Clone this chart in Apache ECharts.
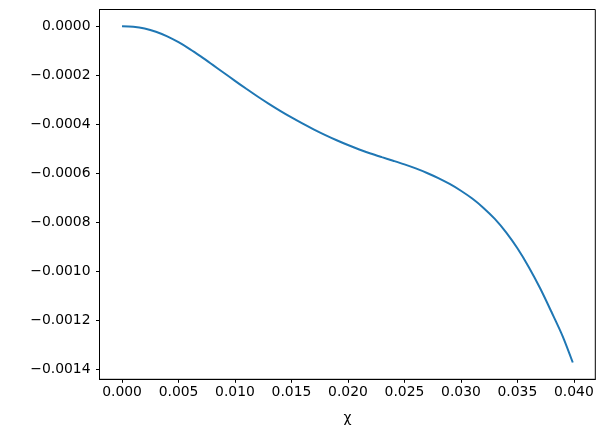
<!DOCTYPE html>
<html>
<head>
<meta charset="utf-8">
<script src="https://cdn.jsdelivr.net/npm/echarts@6/dist/echarts.min.js"></script>
<style>html,body{margin:0;padding:0;background:#fff}#c{width:605px;height:432px}</style>
</head>
<body>
<div id="c"></div>
<script>
const chiValues = [0, 0.001, 0.002, 0.003, 0.004, 0.005, 0.006, 0.007, 0.008, 0.009, 0.010,
  0.011, 0.012, 0.013, 0.014, 0.015, 0.016, 0.017, 0.018, 0.019, 0.020,
  0.021, 0.022, 0.023, 0.024, 0.025, 0.026, 0.027, 0.028, 0.029, 0.030,
  0.031, 0.032, 0.033, 0.034, 0.035, 0.036, 0.037, 0.038, 0.039, 0.0399];
const yValues = [0, -0.000002, -0.000009, -0.000022, -0.000041, -0.000065, -0.000093, -0.000124, -0.0001565, -0.0001895, -0.0002225,
  -0.000255, -0.0002865, -0.0003165, -0.000345, -0.000372, -0.0003975, -0.0004215, -0.000444, -0.000465, -0.0004845,
  -0.0005025, -0.000519, -0.000534, -0.0005485, -0.0005635, -0.00058, -0.0005985, -0.0006195, -0.0006435, -0.000671,
  -0.000703, -0.000741, -0.000786, -0.000841, -0.000906, -0.000982, -0.001068, -0.001164, -0.001264, -0.001372];
const xTicks = [0, 0.005, 0.010, 0.015, 0.020, 0.025, 0.030, 0.035, 0.040];
const yTicks = [0, -0.0002, -0.0004, -0.0006, -0.0008, -0.0010, -0.0012, -0.0014];

const font = 'DejaVu Sans';
const fmt = (v, d) => {
  const s = Math.abs(v).toFixed(d);
  return (v < -1e-12 ? '\u2212' : '') + s;
};
const chart = echarts.init(document.getElementById('c'), null, {renderer: 'canvas'});
chart.setOption({
  animation: false,
  backgroundColor: '#fff',
  grid: {left: 99.5, top: 9.5, right: 9.7, bottom: 52.7, show: true, borderColor: '#000', borderWidth: 1, containLabel: false},
  xAxis: {
    type: 'value', min: -0.001995, max: 0.041895,
    name: 'χ', nameLocation: 'middle', nameGap: 32,
    nameTextStyle: {fontFamily: font, fontSize: 13.9, color: '#000'},
    axisLine: {show: true, onZero: false, lineStyle: {color: '#000', width: 1}},
    axisTick: {show: true, length: 3.5, lineStyle: {color: '#000', width: 1}, customValues: xTicks},
    axisLabel: {show: true, margin: 6, fontFamily: font, fontSize: 13.9, color: '#000', customValues: xTicks,
      formatter: v => fmt(v, 3)},
    splitLine: {show: false}
  },
  yAxis: {
    type: 'value', min: -0.0014405, max: 0.0000686,
    axisLine: {show: true, onZero: false, lineStyle: {color: '#000', width: 1}},
    axisTick: {show: true, length: 3.5, lineStyle: {color: '#000', width: 1}, customValues: yTicks},
    axisLabel: {show: true, margin: 9, fontFamily: font, fontSize: 13.9, color: '#000', customValues: yTicks,
      formatter: v => fmt(v, 4)},
    splitLine: {show: false}
  },
  series: [{
    type: 'line',
    data: chiValues.map((x, i) => [x, yValues[i]]),
    showSymbol: false,
    smooth: 0.3,
    lineStyle: {color: '#1f77b4', width: 2},
    itemStyle: {color: '#1f77b4'}
  }]
});
</script>
</body>
</html>
